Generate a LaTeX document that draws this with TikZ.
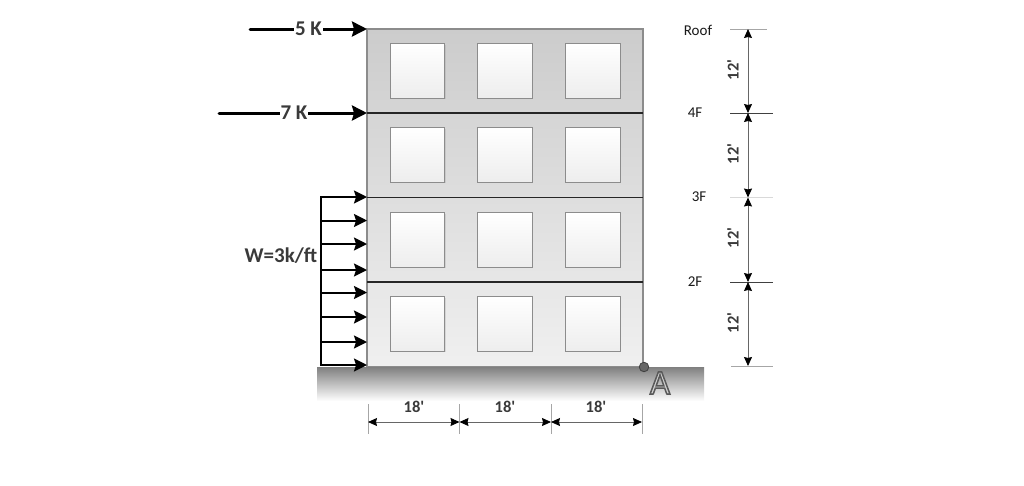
\documentclass[tikz,border=0pt]{standalone}
\usepackage{fontspec}
\newfontfamily\lblfont{Carlito}
\usetikzlibrary{arrows.meta,shadows}
\definecolor{wallgray}{HTML}{8C8C8C}
\definecolor{labelgray}{HTML}{3A3A3A}
\newcommand{\outlined}[1]{\special{pdf:code q 2 Tr 1.5 w .35 .35 .35 RG .82 .82 .82 rg}#1\special{pdf:code Q}}
\tikzset{
  win/.style={minimum size=54.5pt, inner sep=0pt, draw=black!45, line width=.9pt, top color=white, bottom color=black!7,
    drop shadow={shadow xshift=.8pt, shadow yshift=-.8pt, opacity=.2}},
  force/.style={line width=3pt, -{Stealth[length=15pt,width=15pt,inset=2pt]}},
  load/.style={line width=2pt, -{Stealth[length=13pt,width=13pt,inset=2pt]}},
  dimh/.style={black!60, line width=.8pt, {Stealth[length=9pt,width=8pt,inset=1pt,black]}-{Stealth[length=9pt,width=8pt,inset=1pt,black]}},
  tick/.style={black!35, line width=.8pt},
  floorline/.style={black!85, line width=1.6pt},
  txt/.style={font=\lblfont\bfseries\fontsize{21}{21}\selectfont, inner sep=1pt, text=labelgray},
  dimtxt/.style={font=\lblfont\bfseries\fontsize{16.5}{16.5}\selectfont, inner sep=1pt, text=labelgray},
  small/.style={font=\lblfont\fontsize{15}{15}\selectfont, inner sep=0pt, text=black!90},
  pointlabel/.style={font=\lblfont\fontsize{35}{35}\selectfont, inner sep=0pt}
}
\begin{document}
\begin{tikzpicture}
[x=1pt, y=-1pt, >=stealth]
\useasboundingbox (0,0) rectangle (1024,485);

% ground and frame
\shade[top color=black!50, bottom color=white] (317,367) rectangle (704,401);
\shade[top color=black!20, bottom color=black!6, draw=wallgray, line width=1.4pt] (367,29) rectangle (643,366.5);
\coordinate (f5l) at (367,29);
\coordinate (f4l) at (367,113);
\coordinate (f3l) at (367,197.5);
\coordinate (f2l) at (367,282);
\coordinate (f1l) at (367,366);
\coordinate (f4r) at (643,113);
\coordinate (f3r) at (643,197.5);
\coordinate (f2r) at (643,282);
\draw[floorline] (f4l) -- (f4r);
\draw[floorline] (f3l) -- (f3r);
\draw[floorline] (f2l) -- (f2r);

% windows
\node[win] (w11) at (417.5,71) {};
\node[win] (w12) at (505,71) {};
\node[win] (w13) at (593,71) {};
\node[win] (w21) at (417.5,155) {};
\node[win] (w22) at (505,155) {};
\node[win] (w23) at (593,155) {};
\node[win] (w31) at (417.5,240) {};
\node[win] (w32) at (505,240) {};
\node[win] (w33) at (593,240) {};
\node[win] (w41) at (417.5,324) {};
\node[win] (w42) at (505,324) {};
\node[win] (w43) at (593,324) {};

% point loads
\coordinate (p5) at (250,29);
\coordinate (p7) at (219,113);
\draw[force, line cap=round] (p5) -- node[pos=.5, fill=white, txt] (l5) {5 K} (f5l);
\draw[force, line cap=round] (p7) -- node[pos=.507, fill=white, txt] (l7) {7 K} (f4l);

% distributed load
\coordinate (w0) at (321,197);
\coordinate (w1) at (321,220.5);
\coordinate (w2) at (321,244);
\coordinate (w3) at (321,270);
\coordinate (w4) at (321,292.5);
\coordinate (w5) at (321,317);
\coordinate (w6) at (321,342);
\coordinate (w7) at (321,365);
\draw[line width=2.5pt, line cap=rect] (w0) -- (w7);
\draw[load] (w0) -- (367,197);
\draw[load] (w1) -- (367,220.5);
\draw[load] (w2) -- (367,244);
\draw[load] (w3) -- (367,270);
\draw[load] (w4) -- (367,292.5);
\draw[load] (w5) -- (367,317);
\draw[load] (w6) -- (367,342);
\draw[load] (w7) -- (367,365);
\node[txt] (wload) at (281,256) {W=3k/ft};

% support point
\node (ptA) at (644,367) [circle, minimum size=9.5pt, inner sep=0pt, fill=black!60, draw=black!75, line width=.8pt] {};
\node[pointlabel] (lblA) at (660,383) {\outlined{A}};

% bottom dimensions
\coordinate (d0) at (368,422);
\coordinate (d1) at (459.5,422);
\coordinate (d2) at (551,422);
\coordinate (d3) at (642,422);
\draw[tick] (368,404) -- (368,434);
\draw[tick] (459.5,404) -- (459.5,434);
\draw[tick] (551,404) -- (551,434);
\draw[tick] (642,404) -- (642,434);
\draw[dimh] (d0) -- (d1);
\draw[dimh] (d1) -- (d2);
\draw[dimh] (d2) -- (d3);
\node[dimtxt] (h1) at (414,407) {18'};
\node[dimtxt] (h2) at (505,407) {18'};
\node[dimtxt] (h3) at (596,407) {18'};

% right dimensions
\coordinate (v0) at (748,29);
\coordinate (v1) at (748,113);
\coordinate (v2) at (748,197.5);
\coordinate (v3) at (748,282);
\coordinate (v4) at (748,366);
\draw[tick] (730,29) -- (767,29);
\draw[tick, black!75] (730,113) -- (773,113);
\draw[tick, black!15] (730,197.5) -- (773,197.5);
\draw[tick, black!75] (730,282) -- (773,282);
\draw[tick] (731,366) -- (773,366);
\draw[dimh] (v0) -- (v1);
\draw[dimh] (v1) -- (v2);
\draw[dimh] (v2) -- (v3);
\draw[dimh] (v3) -- (v4);
\node[dimtxt, rotate=90] (s1) at (733,70) {12'};
\node[dimtxt, rotate=90] (s2) at (733,154) {12'};
\node[dimtxt, rotate=90] (s3) at (733,238) {12'};
\node[dimtxt, rotate=90] (s4) at (733,323) {12'};

% floor names
\node[small] (roof) at (698,30) {Roof};
\node[small] (fl4) at (695,112.5) {4F};
\node[small] (fl3) at (699,196.5) {3F};
\node[small] (fl2) at (695,281.5) {2F};
\end{tikzpicture}
\end{document}
